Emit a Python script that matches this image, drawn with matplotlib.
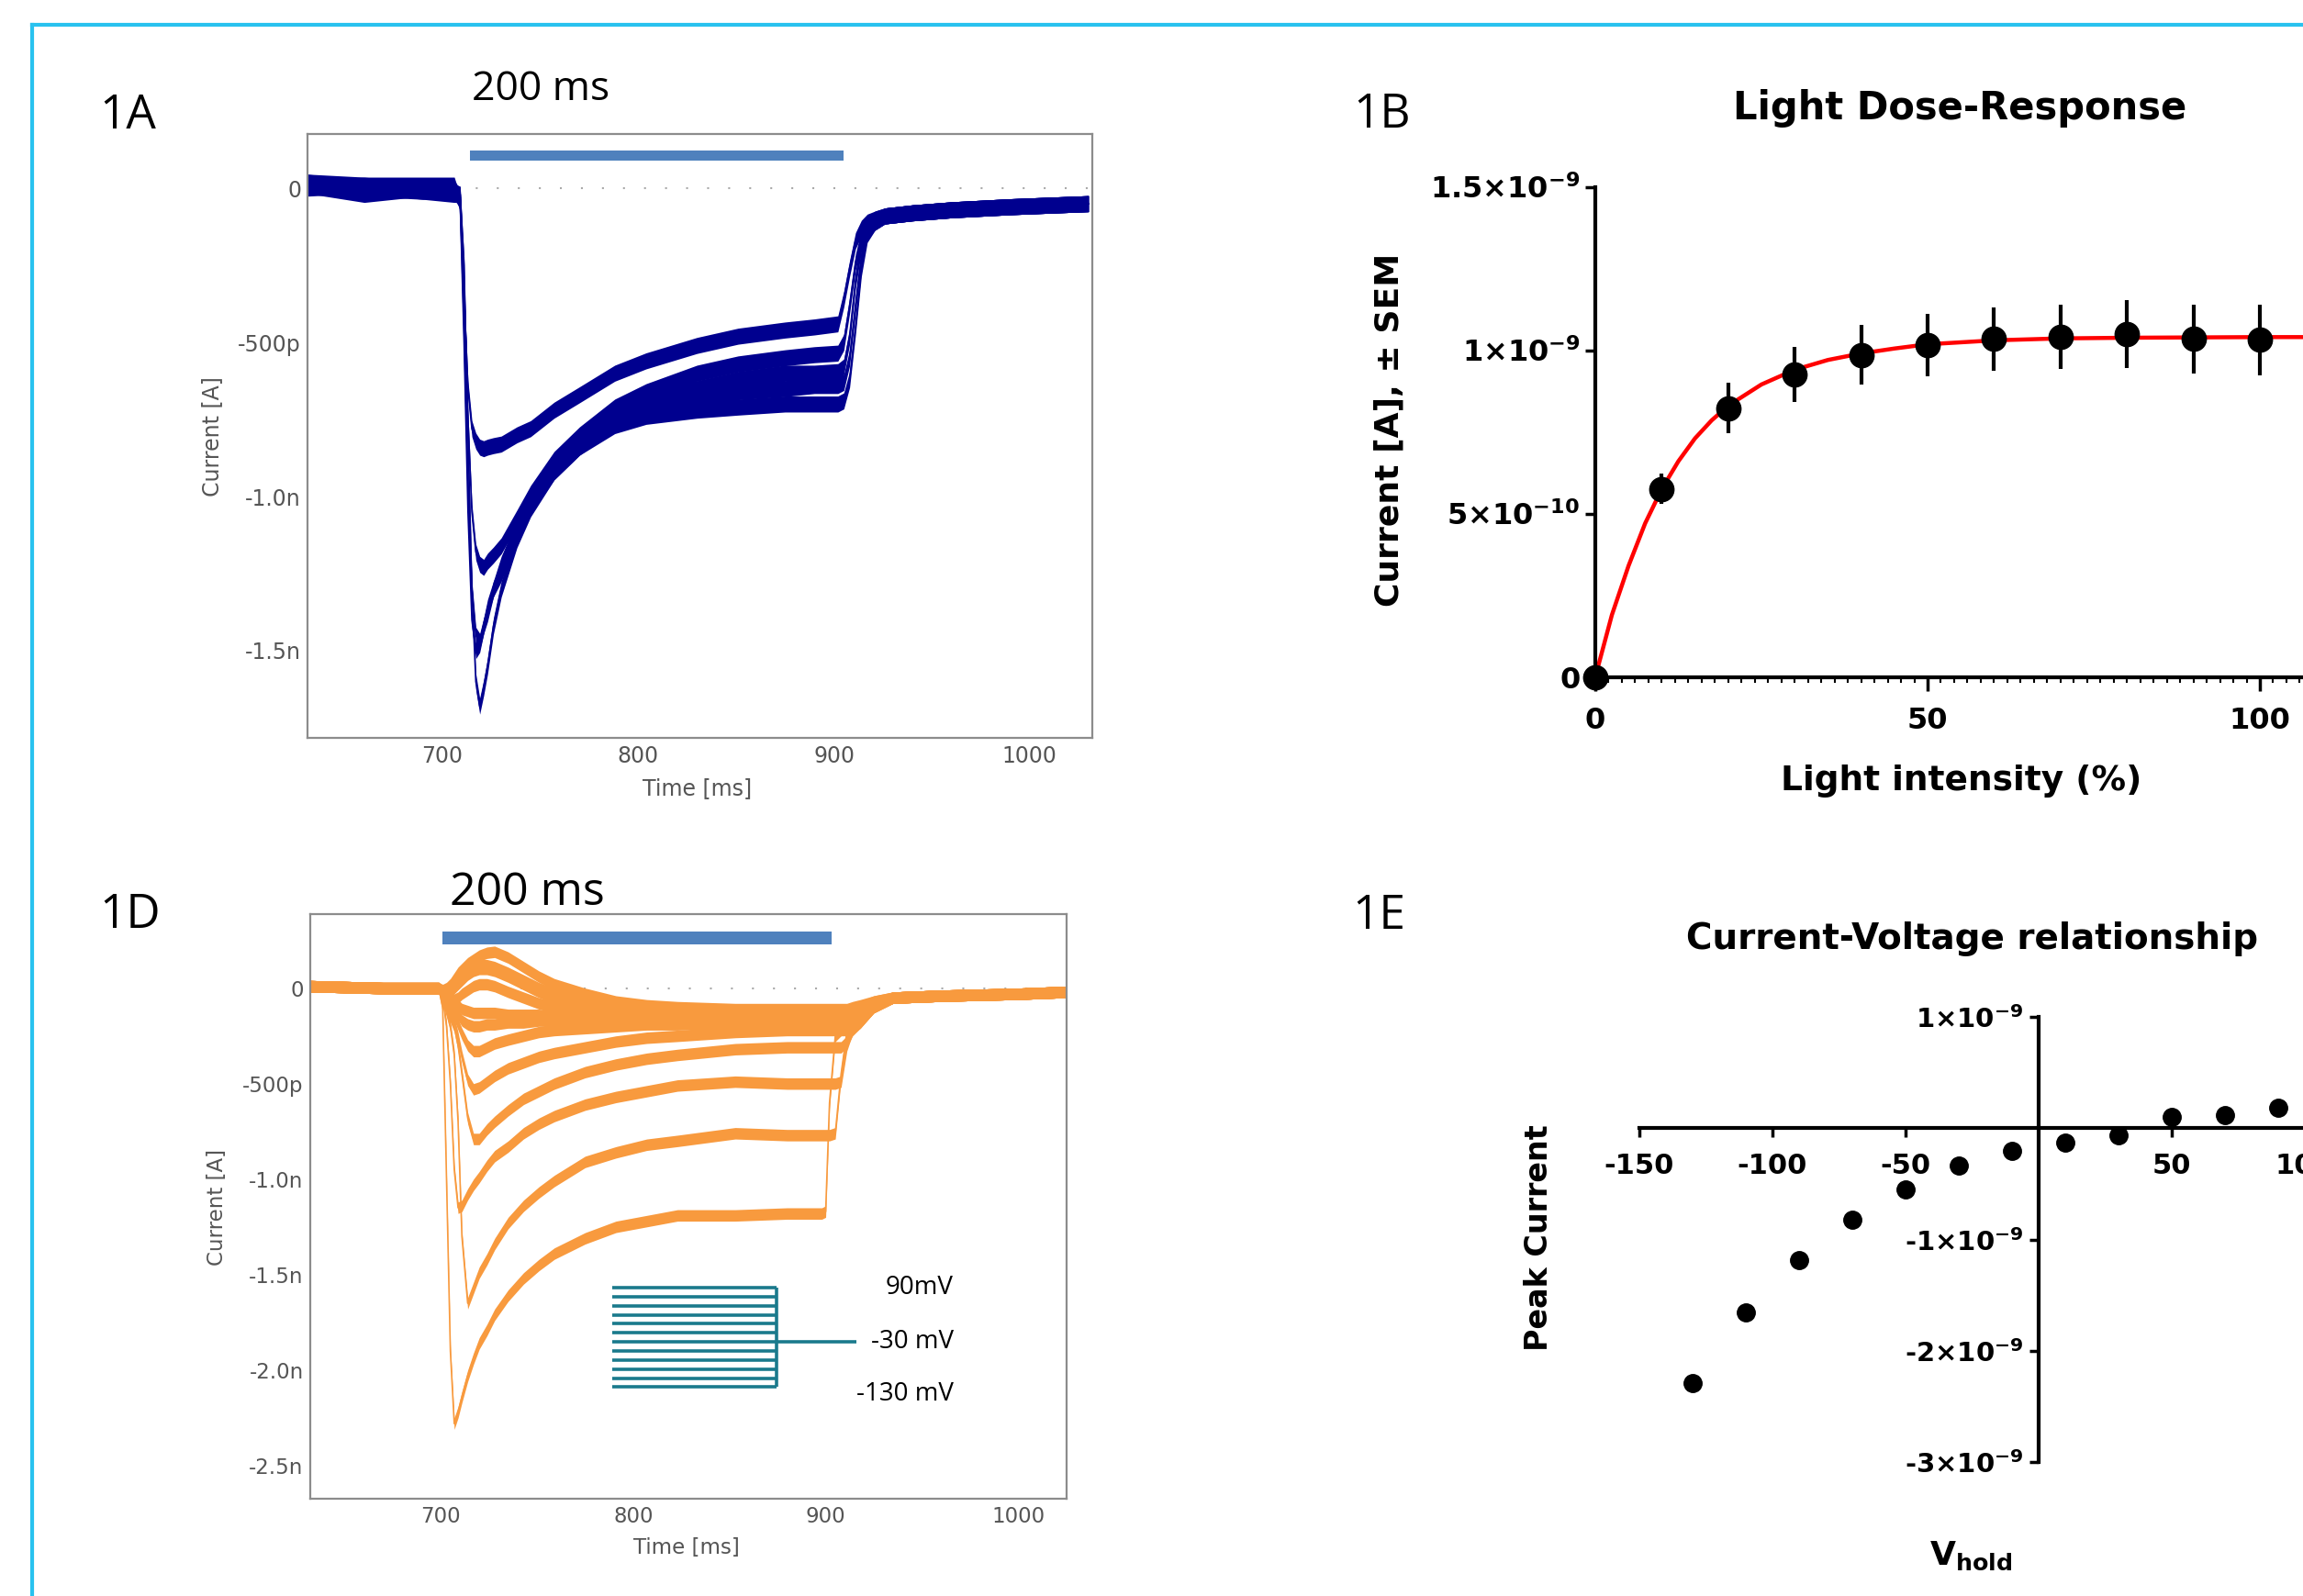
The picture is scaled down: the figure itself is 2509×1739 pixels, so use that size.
import numpy as np
import matplotlib.pyplot as plt
from matplotlib.lines import Line2D
from matplotlib.ticker import MultipleLocator

plt.rcParams['font.family'] = ['DejaVu Sans']
plt.rcParams['mathtext.fontset'] = 'dejavusans'
plt.rcParams['axes.unicode_minus'] = False

W, H = 2509, 1739


def fx(px):
    return px / W


def fy(py):
    return 1 - py / H


def box(l, t, r, b):
    return [fx(l), fy(b), (r - l) / W, (b - t) / H]


# ---- 1A: light-evoked currents (nA) ----
t_a = [630, 660, 690, 706, 709, 711, 713, 715, 717, 719, 721, 723, 726, 730, 738, 745, 757, 770,
       788, 804, 830, 851, 875, 890, 902, 905, 908, 911, 914, 917, 921, 926, 940, 960, 990, 1030]
a1 = [0.02, 0.01, 0.01, 0.01, -0.05, -0.35, -0.65, -0.78, -0.82, -0.84, -0.845, -0.84, -0.835, -0.83, -0.80,
      -0.78, -0.72, -0.67, -0.60, -0.56, -0.51, -0.48, -0.46, -0.45, -0.44, -0.36, -0.26, -0.17, -0.13,
      -0.11, -0.10, -0.09, -0.08, -0.07, -0.06, -0.05]
a2 = [0.01, -0.01, 0, -0.01, -0.02, -0.30, -0.75, -1.05, -1.18, -1.22, -1.23, -1.21, -1.19, -1.16, -1.07,
      -0.99, -0.88, -0.80, -0.71, -0.66, -0.60, -0.57, -0.55, -0.54, -0.535, -0.50, -0.38, -0.24, -0.16,
      -0.12, -0.10, -0.09, -0.08, -0.07, -0.06, -0.05]
a3 = [0, 0.01, -0.01, 0, -0.03, -0.45, -0.95, -1.30, -1.45, -1.47, -1.42, -1.38, -1.30, -1.22, -1.10,
      -1.01, -0.90, -0.82, -0.74, -0.69, -0.65, -0.62, -0.60, -0.60, -0.595, -0.58, -0.48, -0.30, -0.18,
      -0.13, -0.11, -0.09, -0.08, -0.07, -0.06, -0.05]
a4 = [0.02, 0, -0.01, -0.02, -0.02, -0.25, -0.80, -1.30, -1.60, -1.68, -1.62, -1.55, -1.42, -1.30, -1.14,
      -1.04, -0.92, -0.84, -0.76, -0.72, -0.68, -0.66, -0.65, -0.64, -0.64, -0.63, -0.55, -0.38, -0.22,
      -0.14, -0.11, -0.09, -0.08, -0.07, -0.06, -0.05]
a5 = [0.01, -0.02, 0, -0.01, -0.04, -0.50, -1.05, -1.40, -1.50, -1.48, -1.42, -1.36, -1.30, -1.25, -1.12,
      -1.03, -0.92, -0.84, -0.77, -0.74, -0.72, -0.71, -0.70, -0.70, -0.70, -0.69, -0.62, -0.45, -0.26,
      -0.15, -0.11, -0.09, -0.08, -0.07, -0.06, -0.05]
light_on_a = (714, 905)

# ---- 1D: currents (nA) at holding steps ----
t_d = [632, 670, 699, 701, 703, 705, 707, 709, 711, 714, 717, 720, 724, 728, 735, 743, 751, 759, 775,
       791, 807, 823, 853, 880, 898, 900, 902, 905, 908, 911, 914, 918, 925, 935, 960, 1000, 1025]
d_m130 = [0.01, 0, 0, -0.1, -1.0, -1.9, -2.28, -2.22, -2.14, -2.03, -1.94, -1.86, -1.79, -1.71, -1.61,
          -1.52, -1.45, -1.39, -1.31, -1.25, -1.22, -1.19, -1.19, -1.18, -1.18, -1.17, -0.6, -0.25, -0.22,
          -0.21, -0.20, -0.17, -0.10, -0.05, -0.04, -0.03, -0.02]
d_m110 = [0.01, 0, 0, -0.05, -0.12, -0.2, -0.35, -0.7, -1.3, -1.65, -1.57, -1.49, -1.42, -1.34, -1.23,
          -1.14, -1.07, -1.01, -0.91, -0.86, -0.82, -0.80, -0.76, -0.77, -0.77, -0.77, -0.77, -0.76, -0.45,
          -0.23, -0.21, -0.18, -0.10, -0.05, -0.04, -0.03, -0.02]
d_m90 = [0.01, 0, 0, -0.05, -0.2, -0.5, -0.95, -1.15, -1.14, -1.08, -1.03, -0.99, -0.93, -0.88, -0.83,
         -0.76, -0.71, -0.67, -0.61, -0.57, -0.54, -0.51, -0.49, -0.50, -0.50, -0.50, -0.50, -0.50, -0.49,
         -0.30, -0.21, -0.18, -0.10, -0.05, -0.04, -0.03, -0.02]
d_m70 = [0.01, 0, 0, -0.05, -0.10, -0.15, -0.2, -0.3, -0.45, -0.68, -0.79, -0.79, -0.74, -0.70, -0.64,
         -0.58, -0.54, -0.50, -0.44, -0.40, -0.37, -0.35, -0.32, -0.31, -0.31, -0.31, -0.31, -0.31, -0.31,
         -0.28, -0.22, -0.18, -0.10, -0.05, -0.04, -0.03, -0.02]
d_m50 = [0.01, 0, 0, -0.05, -0.08, -0.12, -0.18, -0.26, -0.36, -0.48, -0.53, -0.52, -0.49, -0.46, -0.42,
         -0.39, -0.36, -0.34, -0.31, -0.28, -0.26, -0.25, -0.23, -0.22, -0.22, -0.22, -0.22, -0.22, -0.22,
         -0.22, -0.20, -0.17, -0.10, -0.05, -0.04, -0.03, -0.02]
d_m30 = [0.01, 0, 0, -0.04, -0.07, -0.10, -0.14, -0.19, -0.24, -0.30, -0.33, -0.33, -0.31, -0.29, -0.27,
         -0.25, -0.23, -0.22, -0.21, -0.20, -0.19, -0.19, -0.18, -0.18, -0.18, -0.18, -0.18, -0.18, -0.18,
         -0.18, -0.17, -0.15, -0.09, -0.05, -0.04, -0.03, -0.02]
d_m10 = [0.01, 0, 0, -0.03, -0.05, -0.08, -0.11, -0.14, -0.17, -0.19, -0.20, -0.20, -0.19, -0.19, -0.18,
         -0.18, -0.17, -0.17, -0.17, -0.17, -0.17, -0.17, -0.16, -0.16, -0.16, -0.16, -0.16, -0.16, -0.16,
         -0.16, -0.15, -0.13, -0.08, -0.05, -0.04, -0.03, -0.02]
d_p10 = [0.01, 0, 0, -0.02, -0.03, -0.05, -0.07, -0.09, -0.11, -0.12, -0.13, -0.13, -0.13, -0.13, -0.14,
         -0.14, -0.14, -0.15, -0.15, -0.15, -0.15, -0.15, -0.15, -0.15, -0.15, -0.15, -0.15, -0.15, -0.15,
         -0.15, -0.14, -0.12, -0.08, -0.05, -0.04, -0.03, -0.02]
d_p30 = [0.01, 0, 0, -0.03, -0.05, -0.06, -0.06, -0.05, -0.03, -0.01, 0.01, 0.02, 0.02, 0.01, -0.02,
         -0.05, -0.08, -0.10, -0.12, -0.13, -0.14, -0.14, -0.14, -0.14, -0.14, -0.14, -0.14, -0.14, -0.14,
         -0.14, -0.13, -0.12, -0.08, -0.05, -0.04, -0.03, -0.02]
d_p50 = [0.01, 0, 0, -0.02, -0.03, -0.02, 0.0, 0.02, 0.04, 0.07, 0.09, 0.10, 0.10, 0.09, 0.06,
         0.02, -0.02, -0.05, -0.09, -0.11, -0.12, -0.13, -0.13, -0.13, -0.13, -0.13, -0.13, -0.13, -0.13,
         -0.13, -0.12, -0.11, -0.08, -0.05, -0.04, -0.03, -0.02]
d_p70 = [0.01, 0, 0, -0.02, -0.02, 0.0, 0.02, 0.04, 0.06, 0.09, 0.11, 0.12, 0.12, 0.11, 0.08,
         0.04, 0.0, -0.03, -0.07, -0.10, -0.11, -0.12, -0.12, -0.12, -0.12, -0.12, -0.12, -0.12, -0.12,
         -0.12, -0.11, -0.10, -0.07, -0.05, -0.04, -0.03, -0.02]
d_p90 = [0.01, 0, 0, -0.01, 0.0, 0.02, 0.05, 0.08, 0.10, 0.13, 0.15, 0.17, 0.185, 0.19, 0.16,
         0.11, 0.06, 0.02, -0.03, -0.07, -0.09, -0.10, -0.11, -0.11, -0.11, -0.11, -0.11, -0.11, -0.11,
         -0.11, -0.10, -0.09, -0.07, -0.05, -0.04, -0.03, -0.02]
light_on_d = (701, 903)

# ---- 1B: light dose-response ----
intensity = [0, 10, 20, 30, 40, 50, 60, 70, 80, 90, 100]
current_b = [0, 0.576, 0.823, 0.926, 0.986, 1.016, 1.034, 1.041, 1.049, 1.034, 1.031]  # x1e-9 A
sem_b = [0, 0.047, 0.077, 0.084, 0.090, 0.096, 0.098, 0.099, 0.104, 0.105, 0.107]
fit_x = [0, 2.5, 5, 7.5, 10, 12.5, 15, 17.5, 20, 25, 30, 35, 40, 45, 50, 60, 70, 80, 90, 100, 110]
fit_y = [0, 0.19, 0.34, 0.47, 0.575, 0.66, 0.73, 0.785, 0.83, 0.895, 0.94, 0.97, 0.99, 1.005, 1.018,
         1.03, 1.036, 1.038, 1.039, 1.04, 1.04]

# ---- 1E: I-V ----
vhold = [-130, -110, -90, -70, -50, -30, -10, 10, 30, 50, 70, 90]
peak_e = [-2.287, -1.657, -1.186, -0.822, -0.552, -0.339, -0.20, -0.126, -0.061, 0.103, 0.119, 0.185]
v_holding = -30

navy = '#00008f'
orange = '#f89a3e'
barblue = '#4f81bd'
teal = '#1a7a8c'
gray_txt = '#555555'

fig = plt.figure(figsize=(W / 100, H / 100), dpi=100)

# cyan frame
frame = dict(color='#29c2ef', lw=3, transform=fig.transFigure)
fig.add_artist(Line2D([fx(35), 1.0], [fy(27), fy(27)], **frame))
fig.add_artist(Line2D([fx(35), fx(35)], [fy(27), 0.0], **frame))


def trace(ax, t, y, color, band):
    y = np.asarray(y)
    ax.fill_between(t, y - band, y + band, color=color, lw=0, zorder=2)
    ax.plot(t, y, color=color, lw=1.2, zorder=2)


def scope_axes(rect, xlim, ylim, yticks, ylabels, size):
    ax = fig.add_axes(rect)
    ax.set_xlim(*xlim)
    ax.set_ylim(*ylim)
    ax.set_xticks([700, 800, 900, 1000])
    ax.set_yticks(yticks)
    ax.set_yticklabels(ylabels)
    ax.tick_params(length=0, labelsize=size, labelcolor=gray_txt)
    ax.tick_params(axis='x', pad=6)
    ax.tick_params(axis='y', pad=5)
    for s in ax.spines.values():
        s.set_color('#8c8c8c')
        s.set_linewidth(1.6)
    ax.axhline(0, color='#aaaaaa', lw=1.5, ls=(0, (1, 10)), zorder=1)
    return ax


# ---------- 1A ----------
ax_a = scope_axes(box(335, 146, 1190, 804), (631, 1032), (-1.783, 0.176),
                  [0, -0.5, -1.0, -1.5], ['0', '-500p', '-1.0n', '-1.5n'], 17)
for tr in [a1, a2, a3, a4, a5]:
    trace(ax_a, t_a, tr, navy, 0.026)
ax_a.fill_between(light_on_a, 0.089, 0.123, color=barblue, lw=0, zorder=3)
fig.text(fx(760), fy(859), 'Time [ms]', ha='center', va='center', fontsize=17, color=gray_txt)
fig.text(fx(231), fy(476), 'Current [A]', rotation=90, ha='center', va='center', fontsize=17,
         color=gray_txt)
fig.text(fx(514), fy(109), '200 ms', fontsize=32, family='Open Sans', ha='left', va='baseline')
fig.text(fx(108), fy(139.5), '1A', fontsize=37, family='Open Sans', ha='left', va='baseline')

# ---------- 1D ----------
ax_d = scope_axes(box(337.6, 996.3, 1161.6, 1633), (632, 1025), (-2.673, 0.386),
                  [0, -0.5, -1.0, -1.5, -2.0, -2.5],
                  ['0', '-500p', '-1.0n', '-1.5n', '-2.0n', '-2.5n'], 16.5)
for tr in [d_m130, d_m110, d_m90, d_m70, d_m50, d_m30, d_m10, d_p10, d_p30, d_p50, d_p70, d_p90]:
    trace(ax_d, t_d, tr, orange, 0.03)
ax_d.fill_between(light_on_d, 0.231, 0.296, color=barblue, lw=0, zorder=3)
fig.text(fx(748), fy(1686.5), 'Time [ms]', ha='center', va='center', fontsize=16.5, color=gray_txt)
fig.text(fx(237), fy(1315), 'Current [A]', rotation=90, ha='center', va='center', fontsize=16.5,
         color=gray_txt)
fig.text(fx(490), fy(985.6), '200 ms', fontsize=36, family='Open Sans', ha='left', va='baseline')
fig.text(fx(108), fy(1011), '1D', fontsize=37, family='Open Sans', ha='left', va='baseline')

# voltage protocol inset
px_unit = 178.7
ax_p = fig.add_axes(box(667, 1403, 667 + 1.5 * px_unit, 1511.5))
ax_p.set_xlim(0, 1.5)
ax_p.set_ylim(min(vhold), max(vhold))
ax_p.axis('off')
ax_p.hlines(vhold, 0, 1, color=teal, lw=2.6, clip_on=False)
ax_p.vlines(1, min(vhold), max(vhold), color=teal, lw=2.6, clip_on=False)
ax_p.hlines(v_holding, 1, 1.486, color=teal, lw=2.6, clip_on=False)
xl = (1039 - 667) / px_unit
ax_p.text(xl, max(vhold), f'{max(vhold)}mV', ha='right', va='center', fontsize=20, family='Open Sans')
ax_p.text(xl, v_holding, f'{v_holding} mV', ha='right', va='center', fontsize=20, family='Open Sans')
ax_p.text(xl, min(vhold) - 15, f'{min(vhold)} mV', ha='right', va='center', fontsize=20,
          family='Open Sans')

# ---------- 1B ----------
ax_b = fig.add_axes(box(1738, 203.5, 1738 + 110 * 7.24, 737.6))
ax_b.set_xlim(0, 110)
ax_b.set_ylim(0, 1.5)
for s in ['top', 'right']:
    ax_b.spines[s].set_visible(False)
for s in ['left', 'bottom']:
    ax_b.spines[s].set_linewidth(3)
ax_b.set_xticks([0, 50, 100])
ax_b.xaxis.set_minor_locator(MultipleLocator(2))
ax_b.set_yticks([0, 0.5, 1.0, 1.5])
ax_b.set_yticklabels(['0', r'5×10$^{\mathbf{-10}}$', r'1×10$^{\mathbf{-9}}$', r'1.5×10$^{\mathbf{-9}}$'])
ax_b.tick_params(axis='x', which='major', length=11, width=2.5, labelsize=23, pad=12)
ax_b.tick_params(axis='x', which='minor', length=4, width=1.5)
ax_b.tick_params(axis='y', length=8, width=2.5, labelsize=23, pad=4)
for lab in ax_b.get_xticklabels() + ax_b.get_yticklabels():
    lab.set_fontweight('bold')
ax_b.plot(fit_x, fit_y, color='red', lw=3.2, zorder=2, clip_on=False)
ax_b.errorbar(intensity, current_b, yerr=sem_b, fmt='none', ecolor='black', elinewidth=3,
              capsize=0, zorder=3)
ax_b.plot(intensity, current_b, 'o', color='black', ms=19, zorder=4, clip_on=False)
fig.text(fx(2135), fy(129.6), 'Light Dose-Response', ha='center', va='baseline', fontsize=30,
         weight='bold')
fig.text(fx(1514), fy(468), 'Current [A], ± SEM', rotation=90, ha='center', va='center',
         fontsize=26, weight='bold')
fig.text(fx(2137), fy(860.8), 'Light intensity (%)', ha='center', va='baseline', fontsize=27,
         weight='bold')
fig.text(fx(1474), fy(139), '1B', fontsize=37, family='Open Sans', ha='left', va='baseline')

# ---------- 1E ----------
ax_e = fig.add_axes(box(1785.8, 1108, 1785.8 + 260 * 2.9, 1593.4))
ax_e.set_xlim(-150, 110)
ax_e.set_ylim(-3, 1)
for s in ['top', 'right']:
    ax_e.spines[s].set_visible(False)
ax_e.spines['left'].set_position(('data', 0))
ax_e.spines['bottom'].set_position(('data', 0))
for s in ['left', 'bottom']:
    ax_e.spines[s].set_linewidth(3)
ax_e.set_xticks([-150, -100, -50, 50, 100])
ax_e.set_yticks([-3, -2, -1, 1])
ax_e.set_yticklabels([r'-3×10$^{\mathbf{-9}}$', r'-2×10$^{\mathbf{-9}}$', r'-1×10$^{\mathbf{-9}}$',
                      r'1×10$^{\mathbf{-9}}$'])
ax_e.tick_params(axis='x', length=7, width=2.5, labelsize=22, pad=12)
ax_e.tick_params(axis='y', length=7, width=2.5, labelsize=21, pad=5)
for lab in ax_e.get_xticklabels() + ax_e.get_yticklabels():
    lab.set_fontweight('bold')
ax_e.plot(vhold, peak_e, 'o', color='black', ms=14, clip_on=False, zorder=4)
fig.text(fx(2149), fy(1034.5), 'Current-Voltage relationship', ha='center', va='baseline',
         fontsize=28, weight='bold')
fig.text(fx(1676), fy(1349), 'Peak Current', rotation=90, ha='center', va='center', fontsize=24,
         weight='bold')
fig.text(fx(2147), fy(1705), r'$\mathbf{V_{hold}}$', ha='center', va='baseline', fontsize=26)
fig.text(fx(1473), fy(1012), '1E', fontsize=37, family='Open Sans', ha='left', va='baseline')

fig.savefig('out.png', dpi=100)
